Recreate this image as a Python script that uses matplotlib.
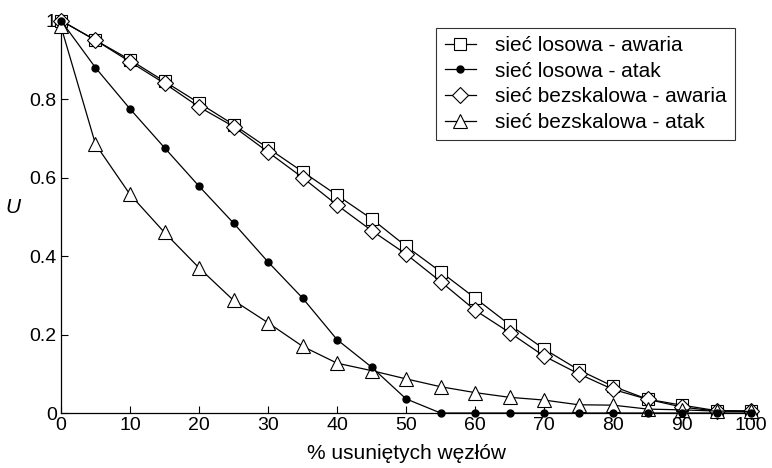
import numpy as np
import matplotlib.pyplot as plt

plt.rcParams['font.family'] = ['Liberation Sans', 'DejaVu Sans']

# % usunietych wezlow
x = [0, 5, 10, 15, 20, 25, 30, 35, 40, 45, 50, 55, 60, 65, 70, 75, 80, 85, 90, 95, 100]

losowa_awaria = [1.0, 0.95, 0.90, 0.845, 0.79, 0.735, 0.675, 0.615, 0.555, 0.495, 0.425,
                 0.36, 0.293, 0.225, 0.163, 0.11, 0.068, 0.035, 0.02, 0.006, 0.005]
losowa_atak = [1.0, 0.88, 0.775, 0.676, 0.578, 0.484, 0.385, 0.293, 0.187, 0.117, 0.036,
               0.0, 0.0, 0.0, 0.0, 0.0, 0.0, 0.0, 0.0, 0.0, 0.0]
bezskalowa_awaria = [1.0, 0.95, 0.895, 0.84, 0.78, 0.73, 0.665, 0.60, 0.53, 0.465, 0.405,
                     0.335, 0.262, 0.205, 0.145, 0.10, 0.06, 0.035, 0.015, 0.005, 0.005]
bezskalowa_atak = [0.985, 0.685, 0.557, 0.46, 0.37, 0.287, 0.23, 0.17, 0.127, 0.108, 0.087,
                   0.067, 0.052, 0.04, 0.033, 0.021, 0.02, 0.01, 0.008, 0.005, 0.004]

labels = ['sieć losowa - awaria', 'sieć losowa - atak',
          'sieć bezskalowa - awaria', 'sieć bezskalowa - atak']

fig = plt.figure(figsize=(7.72, 4.68), dpi=100)
ax = fig.add_axes([0.079, 0.1175, 0.894, 0.8385])

lw = 0.9
ax.plot(x, losowa_awaria, color='black', lw=lw, marker='s', ms=9, mfc='white',
        mec='black', mew=0.8, label=labels[0], clip_on=False, zorder=3)
ax.plot(x, losowa_atak, color='black', lw=lw, marker='o', ms=5, mfc='black',
        mec='black', label=labels[1], clip_on=False, zorder=5)
ax.plot(x, bezskalowa_awaria, color='black', lw=lw, marker='D', ms=8, mfc='white',
        mec='black', mew=0.8, label=labels[2], clip_on=False, zorder=4)
ax.plot(x, bezskalowa_atak, color='black', lw=lw, marker='^', ms=10, mfc='white',
        mec='black', mew=0.8, label=labels[3], clip_on=False, zorder=4)

ax.set_xlim(0, 100)
ax.set_ylim(0, 1)
ax.set_xticks(np.arange(0, 101, 10))
ax.set_yticks([0, 0.2, 0.4, 0.6, 0.8, 1.0])
ax.set_yticklabels(['0', '0.2', '0.4', '0.6', '0.8', '1'])
ax.tick_params(direction='in', length=5, width=0.8, labelsize=14, pad=3)

for s in ['top', 'right']:
    ax.spines[s].set_visible(False)
for s in ['left', 'bottom']:
    ax.spines[s].set_linewidth(0.9)

ax.set_xlabel('% usuniętych węzłów', fontsize=15, labelpad=7)
ax.set_ylabel('U', fontsize=15, style='italic', rotation=0, labelpad=10)
ax.yaxis.set_label_coords(-0.07, 0.50)

leg = ax.legend(loc='upper right', bbox_to_anchor=(0.976, 0.982), borderaxespad=0,
                fontsize=15, frameon=True, fancybox=False, edgecolor='black',
                handlelength=1.5, handletextpad=0.9, labelspacing=0.32, borderpad=0.4)
leg.get_frame().set_linewidth(0.8)

fig.savefig('out.png', dpi=100)
